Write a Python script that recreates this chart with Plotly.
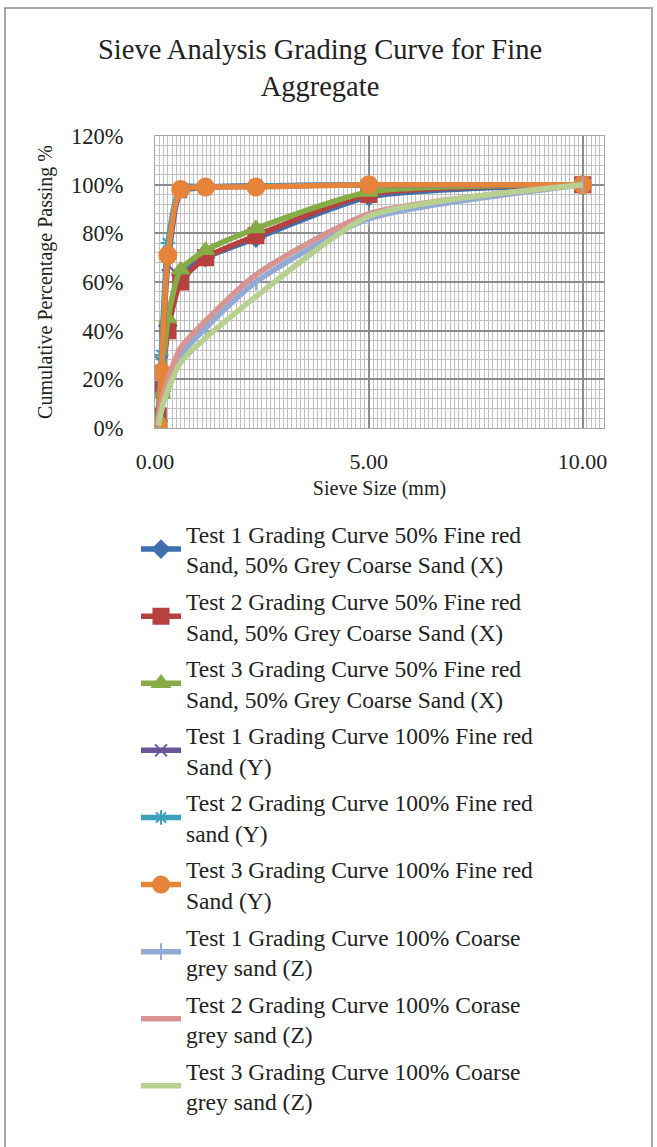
import plotly.graph_objects as go

sieve = [10, 5, 2.36, 1.18, 0.6, 0.3, 0.15, 0.075]

t1x = [1.00, 0.95, 0.78, 0.70, 0.63, 0.42, 0.15, 0.03]
t2x = [1.00, 0.96, 0.79, 0.70, 0.60, 0.40, 0.16, 0.05]
t3x = [1.00, 0.97, 0.82, 0.73, 0.65, 0.45, 0.14, 0.04]
t1y = [1.00, 1.00, 0.995, 0.99, 0.97, 0.67, 0.27, 0.03]
t2y = [1.00, 1.00, 0.995, 0.99, 0.99, 0.76, 0.30, 0.03]
t3y = [1.00, 1.00, 0.99, 0.99, 0.98, 0.71, 0.23, 0.01]
t1z = [1.00, 0.86, 0.60, 0.41, 0.30, 0.18, 0.09, 0.02]
t2z = [1.00, 0.88, 0.63, 0.44, 0.33, 0.20, 0.10, 0.02]
t3z = [1.00, 0.87, 0.54, 0.37, 0.27, 0.155, 0.07, 0.01]

names = [
    "Test 1 Grading Curve 50% Fine red<br>Sand, 50% Grey Coarse Sand (X)",
    "Test 2 Grading Curve 50% Fine red<br>Sand, 50% Grey Coarse Sand (X)",
    "Test 3 Grading Curve 50% Fine red<br>Sand, 50% Grey Coarse Sand (X)",
    "Test 1 Grading Curve 100% Fine red<br>Sand (Y)",
    "Test 2 Grading Curve 100% Fine red<br>sand (Y)",
    "Test 3 Grading Curve 100% Fine red<br>Sand (Y)",
    "Test 1 Grading Curve 100% Coarse<br>grey sand (Z)",
    "Test 2 Grading Curve 100% Corase<br>grey sand (Z)",
    "Test 3 Grading Curve 100% Coarse<br>grey sand (Z)",
]
series = [t1x, t2x, t3x, t1y, t2y, t3y, t1z, t2z, t3z]
colors = ["#3F6FAE", "#B6413E", "#86AC45", "#6A5599", "#3BA0BA", "#E5843A",
          "#91ABD6", "#D99391", "#B8D08F"]
symbols = ["diamond", "square", "triangle-up", "x-thin", "asterisk", "circle",
           "line-ns", None, None]
sizes = [13, 15, 15, 12, 12, 17, 12, 0, 0]

fig = go.Figure()
for i, (nm, ys, c, sym, sz) in enumerate(zip(names, series, colors, symbols, sizes)):
    kw = dict(mode="lines+markers" if sym else "lines")
    if sym:
        kw["marker"] = dict(symbol=sym, size=sz, color=c,
                            line=dict(color=c, width=2))
    fig.add_trace(go.Scatter(x=sieve, y=ys, name=nm, legendgroup=f"g{i}",
                             line=dict(color=c, width=5.5, shape="spline", smoothing=0.6),
                             **kw))

W, H = 657, 1147
L, R, T, B = 155, 604, 136, 428
pw, ph = R - L, B - T

def px(x):
    return (x - L) / pw

def py(y):
    return (B - y) / ph

font = "Liberation Serif"
fig.update_layout(
    width=W, height=H,
    margin=dict(l=L, r=W - R, t=T, b=H - B, autoexpand=False),
    paper_bgcolor="white", plot_bgcolor="white",
    font=dict(family=font, color="#222222"),
    title=dict(text="Sieve Analysis Grading Curve for Fine<br>Aggregate",
               font=dict(size=28.5, family=font, color="#222222"),
               x=320 / W, xanchor="center", y=1 - 59 / H, yanchor="middle"),
    xaxis=dict(range=[0, 10.5], tick0=0, dtick=5, tickformat=".2f",
               showgrid=True, gridcolor="#8C8C8C", gridwidth=1.5,
               minor=dict(dtick=0.1, showgrid=True, gridcolor="#C0C0C0", gridwidth=1),
               zeroline=False, showline=True, linecolor="#A6A6A6", mirror=True,
               tickfont=dict(size=22), ticks="", ticklen=0, ticklabelstandoff=14,
               title=dict(text="Sieve Size (mm)", font=dict(size=20), standoff=7)),
    yaxis=dict(range=[0, 1.2], tick0=0, dtick=0.2, tickformat=".0%",
               showgrid=True, gridcolor="#8C8C8C", gridwidth=1.5,
               minor=dict(dtick=0.04, showgrid=True, gridcolor="#C0C0C0", gridwidth=1),
               zeroline=False, showline=True, linecolor="#A6A6A6", mirror=True,
               tickfont=dict(size=22.5), ticks="", ticklen=0, ticklabelstandoff=26,
               title=dict(text="Cumulative Percentage Passing %", font=dict(size=20), standoff=13)),
    legend=dict(x=px(136), y=py(512), xanchor="left", yanchor="top",
                font=dict(size=23.5, family=font, color="#222222"),
                bgcolor="rgba(0,0,0,0)", itemwidth=40, tracegroupgap=3,
                maxheight=900),
    showlegend=True,
    shapes=[dict(type="rect", xref="paper", yref="paper",
                 x0=px(5), x1=px(652), y0=py(1160), y1=py(8),
                 line=dict(color="#8C8C8C", width=1.5), layer="below")],
)

fig.write_html("out.html")
